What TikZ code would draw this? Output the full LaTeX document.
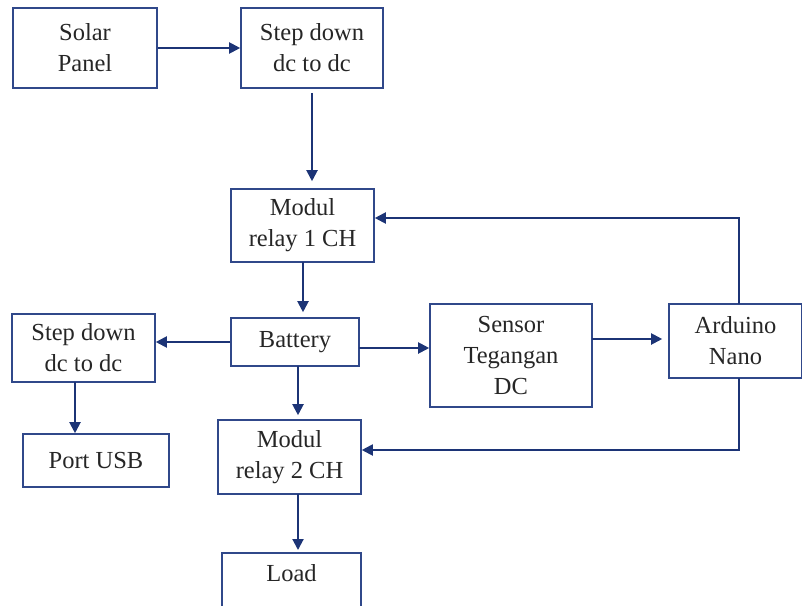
\documentclass[tikz,border=0pt]{standalone}
\usepackage{fontspec}
\setmainfont{Liberation Serif}
\usetikzlibrary{arrows.meta}
\definecolor{navy}{RGB}{28,52,118}
\definecolor{boxc}{RGB}{48,72,138}
\tikzset{
  box/.style={draw=boxc, line width=1.6pt, inner sep=0pt, align=center,
    font=\fontsize{24.5}{31}\selectfont, text=black!85},
  txt/.style={inner sep=0pt, font=\fontsize{24.5}{31}\selectfont, text=black!85},
  arr/.style={draw=navy, line width=2pt, -{Triangle[length=11pt,width=11pt]}},
  ln/.style={draw=navy, line width=2pt}
}
\begin{document}
\begin{tikzpicture}[x=1pt,y=-1pt]
\useasboundingbox (0,0) rectangle (802,605);
\clip (0,0) rectangle (802,605);
\node[box, minimum width=144pt, minimum height=80pt] (solar) at (85,48) {Solar\\Panel};
\node[box, minimum width=142pt, minimum height=80pt] (stepA) at (312,48) {Step down\\dc to dc};
\node[box, minimum width=143pt, minimum height=73pt] (relay1) at (302.5,225.5) {Modul\\relay 1 CH};
\node[box, minimum width=128pt, minimum height=48pt] (battery) at (295,342) {Battery};
\node[box, minimum width=143pt, minimum height=68pt] (stepB) at (83.5,348) {Step down\\dc to dc};
\node[box, minimum width=146pt, minimum height=53pt] (port) at (96,460.5) {Port USB};
\node[box, minimum width=162pt, minimum height=103pt] (sensor) at (511,355.5) {Sensor\\Tegangan\\DC};
\node[box, minimum width=133pt, minimum height=74pt] (arduino) at (735.5,341) {Arduino\\Nano};
\node[box, minimum width=143pt, minimum height=74pt] (relay2) at (289.5,457) {Modul\\relay 2 CH};
\node[box, minimum width=139pt, minimum height=70pt, anchor=north] (load) at (291.5,552) {};
\node[txt] (loadtxt) at (291.5,573) {Load};

% connectors
\draw[arr] (solar.east) -- (stepA.west);
\draw[arr, shorten <=4pt, shorten >=7pt] (stepA.south) -- (stepA.south |- relay1.north);
\coordinate (a1) at (739,304);
\coordinate (a2) at (739,218);
\draw[arr] (a1) -- (a2) -- (a2 -| relay1.east);
\coordinate (r1b) at (303,262);
\draw[arr, shorten >=5pt] (r1b) -- (r1b |- battery.north);
\draw[arr] (battery.west) -- (stepB.east |- battery.west);
\coordinate (sbb) at (75,382);
\draw[arr] (sbb) -- (sbb |- port.north);
\coordinate (bb) at (298,366);
\draw[arr, shorten >=4pt] (bb) -- (bb |- relay2.north);
\coordinate (r2b) at (298,494);
\draw[arr, shorten >=2pt] (r2b) -- (r2b |- load.north);
\coordinate (be) at (359,348);
\draw[arr] (be) -- (be -| sensor.west);
\coordinate (se) at (592,339);
\draw[arr, shorten >=6pt] (se) -- (se -| arduino.west);
\coordinate (a3) at (739,378);
\coordinate (a4) at (739,450);
\draw[arr] (a3) -- (a4) -- (a4 -| relay2.east);
\end{tikzpicture}
\end{document}
